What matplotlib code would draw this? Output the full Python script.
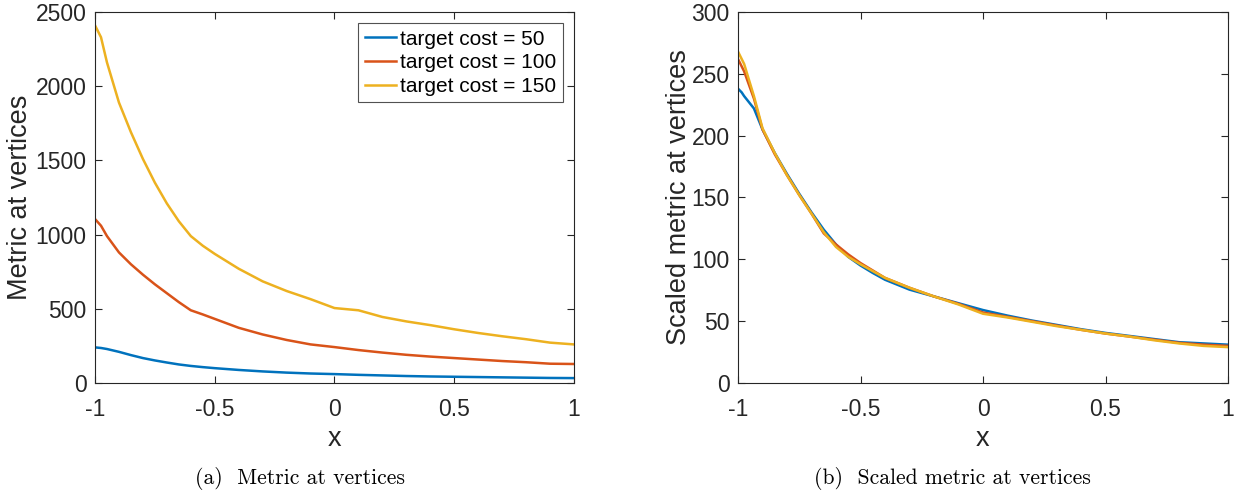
import matplotlib
matplotlib.use('Agg')
import matplotlib.pyplot as plt

# MATLAB default line colours
colors = ['#0072BD', '#D95319', '#EDB120']
labels = ['target cost = 50', 'target cost = 100', 'target cost = 150']

# (a) metric at vertices
x_a = [-1.0, -0.975, -0.95, -0.9, -0.85, -0.8, -0.75, -0.7, -0.65, -0.6,
       -0.55, -0.5, -0.4, -0.3, -0.2, -0.1, 0.0, 0.1, 0.2, 0.3, 0.4, 0.5,
       0.6, 0.7, 0.8, 0.9, 1.0]
metric_50 = [240, 236, 229, 210, 188, 168, 152, 138, 125, 115, 107, 100, 88,
             78, 70, 64, 60, 55, 51, 47, 44, 42, 40, 38, 36, 34, 33]
metric_100 = [1105, 1060, 990, 880, 800, 730, 665, 605, 545, 490, 462, 432,
              372, 327, 290, 260, 242, 222, 205, 190, 178, 168, 158, 148, 140,
              130, 128]
metric_150 = [2410, 2330, 2160, 1890, 1690, 1510, 1350, 1210, 1090, 990, 925,
              870, 770, 685, 620, 565, 505, 490, 445, 415, 390, 362, 337, 315,
              295, 272, 260]

# (b) scaled metric at vertices
x_b = [-1.0, -0.985, -0.975, -0.955, -0.935, -0.9, -0.85, -0.8, -0.75, -0.7,
       -0.65, -0.6, -0.55, -0.5, -0.45, -0.4, -0.3, -0.2, -0.1, 0.0, 0.1, 0.2,
       0.3, 0.4, 0.5, 0.6, 0.7, 0.8, 0.9, 1.0]
scaled_50 = [238, 235, 232, 227, 222, 205, 186, 169, 153, 138, 124, 112, 102,
             95, 89, 83.5, 75.5, 70, 64.5, 59, 54.5, 50.5, 47, 43.5, 40.5, 38,
             35.5, 33, 32, 31]
scaled_100 = [262, 256, 252, 241, 230, 205, 185, 168, 152, 137, 121, 112, 104,
              97, 91, 85, 77, 70, 64, 57, 53.5, 50, 46.5, 43, 40, 37.5, 35,
              32.5, 31, 30]
scaled_150 = [268, 262, 258, 245, 232, 206, 186, 168, 152, 137, 122, 110, 102,
              96, 90.5, 85, 77, 70, 63.5, 56, 53, 49.5, 46, 43, 40, 37.5, 34.5,
              32, 30, 29]

plt.rcParams['font.family'] = ['Liberation Sans', 'DejaVu Sans']
plt.rcParams['axes.unicode_minus'] = False

fig = plt.figure(figsize=(12.39, 4.93), dpi=100)
W, H = 1239.0, 493.0
ax1 = fig.add_axes([95 / W, (H - 383) / H, 479 / W, 371 / H])
ax2 = fig.add_axes([738 / W, (H - 383) / H, 490 / W, 371 / H])


def format_axes(ax):
    for s in ax.spines.values():
        s.set_color('#262626')
        s.set_linewidth(0.8)
    ax.tick_params(direction='in', length=5, width=0.8, top=True, right=True,
                   colors='#262626', labelsize=16.5)
    ax.tick_params(axis='x', pad=11)
    ax.tick_params(axis='y', pad=6)
    ax.set_xlim(-1, 1)
    ax.set_xticks([-1, -0.5, 0, 0.5, 1])
    ax.set_xticklabels(['-1', '-0.5', '0', '0.5', '1'])
    ax.set_xlabel('x', fontsize=19.5, color='#262626')
    ax.xaxis.set_label_coords(0.5, -(426 - 383) / 371.0)


format_axes(ax1)
for y, c, lab in zip([metric_50, metric_100, metric_150], colors, labels):
    ax1.plot(x_a, y, color=c, lw=1.8, label=lab)
ax1.set_ylim(0, 2500)
ax1.set_yticks([0, 500, 1000, 1500, 2000, 2500])
ax1.set_ylabel('Metric at vertices', fontsize=19.5, color='#262626')
ax1.yaxis.set_label_coords(-(95 - 33) / 479.0, 0.5)
leg = ax1.legend(loc='upper right', fontsize=15, frameon=True, fancybox=False,
                 handlelength=1.5, handletextpad=0.2, borderpad=0.3,
                 labelspacing=0.22, borderaxespad=0.55)
leg.get_frame().set_edgecolor('#262626')
leg.get_frame().set_linewidth(0.8)

format_axes(ax2)
for y, c in zip([scaled_50, scaled_100, scaled_150], colors):
    ax2.plot(x_b, y, color=c, lw=1.8)
ax2.set_ylim(0, 300)
ax2.set_yticks([0, 50, 100, 150, 200, 250, 300])
ax2.set_ylabel('Scaled metric at vertices', fontsize=19.5, color='#262626')
ax2.yaxis.set_label_coords(-(738 - 692) / 490.0, 0.5)

fig.text(300 / W, 1 - 478 / H, '(a)  Metric at vertices', family='cmr10',
         fontsize=15.6, ha='center', va='center')
fig.text(952 / W, 1 - 478 / H, '(b)  Scaled metric at vertices',
         family='cmr10', fontsize=15.6, ha='center', va='center')

fig.savefig('out.png', dpi=100)
